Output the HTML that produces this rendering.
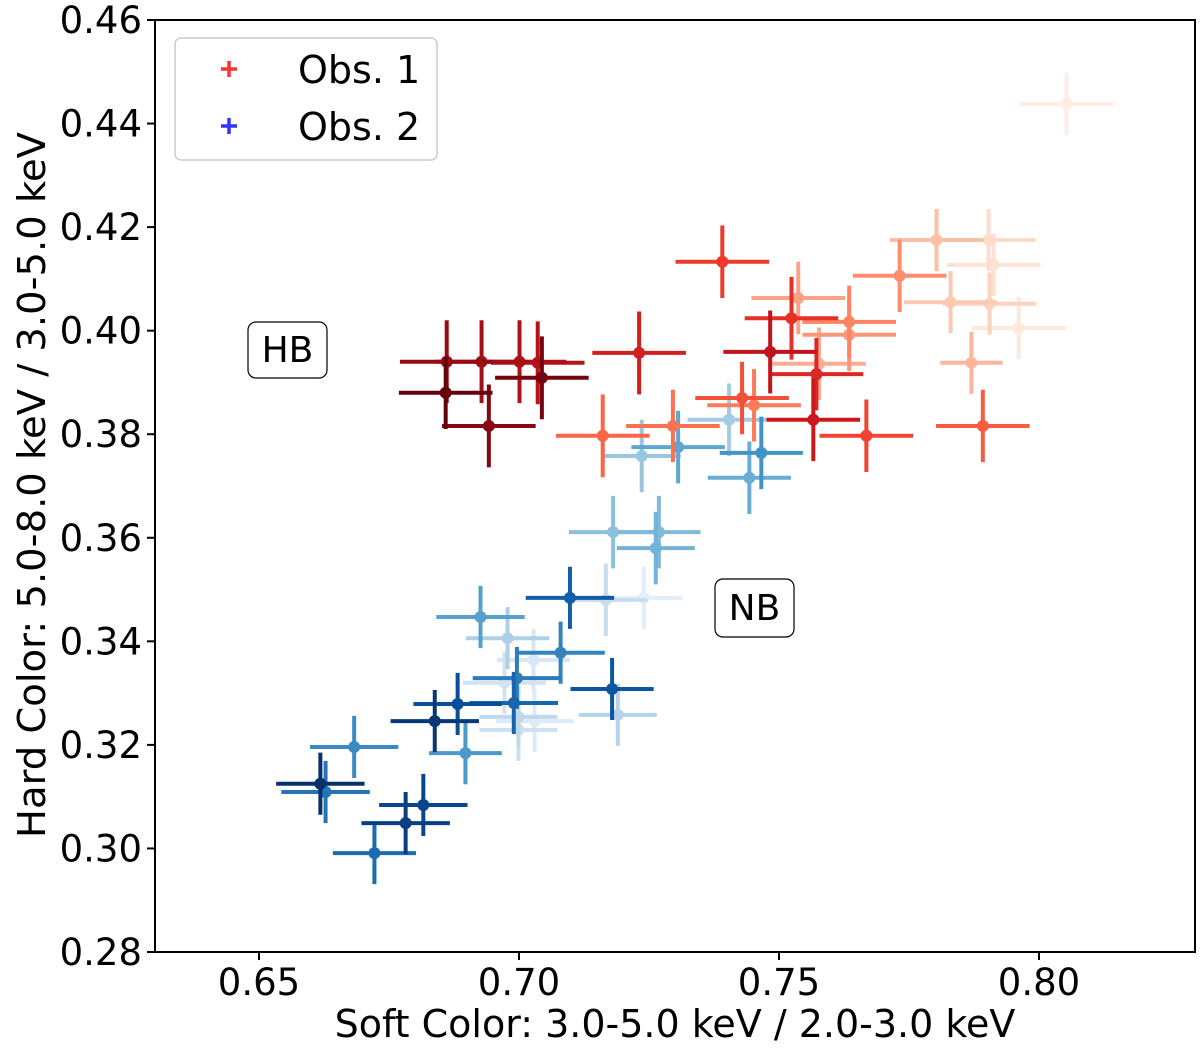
<!DOCTYPE html>
<html><head><meta charset="utf-8"><style>
html,body{margin:0;padding:0;background:#fff;}
svg{display:block;font-family:"DejaVu Sans","Liberation Sans",sans-serif;}
</style></head><body>
<svg id="chart" width="1200" height="1049" viewBox="0 0 1200 1049">
<g id="marks"></g>
<rect x="155" y="20" width="1040" height="932" fill="none" stroke="#000" stroke-width="2"/>
<g id="axes"></g>
<text x="675" y="1037" font-size="38" text-anchor="middle">Soft Color: 3.0-5.0 keV / 2.0-3.0 keV</text>
<text transform="translate(45,485) rotate(-90)" font-size="38.5" text-anchor="middle">Hard Color: 5.0-8.0 keV / 3.0-5.0 keV</text>
<g>
<rect x="175" y="38" width="262" height="122" rx="6" fill="#fff" stroke="#ccc" stroke-width="1.5"/>
<g>
<path d="M221 69h16M229 61v16" stroke="#ff3333" stroke-width="3.5"/>
<text x="298" y="83" font-size="38">Obs. 1</text></g>
<g>
<path d="M221 126h16M229 118v16" stroke="#3333ff" stroke-width="3.5"/>
<text x="298" y="140" font-size="38">Obs. 2</text></g>
</g>
<g>
<rect x="248" y="322" width="79" height="56" rx="8" fill="#fff" stroke="#000" stroke-width="1.2"/>
<text x="287.5" y="362" font-size="36" text-anchor="middle">HB</text></g>
<g>
<rect x="715" y="579" width="79" height="58" rx="8" fill="#fff" stroke="#000" stroke-width="1.2"/>
<text x="754.5" y="620" font-size="36" text-anchor="middle">NB</text></g>
</svg>
<script>
const xTicks = [0.65, 0.70, 0.75, 0.80];
const xTickLabels = ["0.65", "0.70", "0.75", "0.80"];
const yTicks = [0.28, 0.30, 0.32, 0.34, 0.36, 0.38, 0.40, 0.42, 0.44, 0.46];
const yTickLabels = ["0.28","0.30","0.32","0.34","0.36","0.38","0.40","0.42","0.44","0.46"];
// Obs 1 ordered from light (early colormap) to dark
const obs1X = [0.8053,0.7961,0.7913,0.7903,0.7905,0.7830,0.7803,0.7870,0.7577,0.7537,0.7635,0.7732,0.7635,0.7452,0.7296,0.7161,0.7892,0.7429,0.7668,0.7391,0.7524,0.7572,0.7231,0.7566,0.7483,0.7036,0.7001,0.6928,0.6861,0.6942,0.7044,0.6859];
const obs1Y = [0.4438,0.4005,0.4127,0.4175,0.4052,0.4055,0.4175,0.3938,0.3936,0.4063,0.3992,0.4106,0.4017,0.3856,0.3816,0.3797,0.3816,0.3870,0.3797,0.4133,0.4024,0.3916,0.3957,0.3828,0.3959,0.3938,0.3940,0.3940,0.3940,0.3816,0.3909,0.3880];
const obs1Xerr = [0.009,0.009,0.009,0.009,0.009,0.009,0.009,0.006,0.009,0.009,0.009,0.009,0.009,0.009,0.009,0.009,0.009,0.009,0.009,0.009,0.009,0.009,0.009,0.009,0.009,0.009,0.009,0.009,0.009,0.009,0.009,0.009];
const obs1Yerr = [0.006,0.006,0.006,0.006,0.006,0.006,0.006,0.006,0.007,0.007,0.007,0.007,0.007,0.007,0.007,0.008,0.007,0.007,0.007,0.007,0.008,0.007,0.008,0.008,0.008,0.008,0.008,0.008,0.008,0.008,0.008,0.007];
// Obs 2 ordered from light to dark
const obs2X = [0.7240,0.7030,0.7028,0.6972,0.6999,0.7167,0.6999,0.7190,0.6978,0.7404,0.7236,0.7181,0.7269,0.7263,0.7443,0.7306,0.6926,0.6897,0.7466,0.6683,0.7080,0.6996,0.6628,0.6722,0.6990,0.7098,0.7179,0.6882,0.6816,0.6782,0.6838,0.6618];
const obs2Y = [0.3484,0.3246,0.3364,0.3320,0.3229,0.3480,0.3254,0.3258,0.3406,0.3828,0.3758,0.3611,0.3611,0.3580,0.3716,0.3775,0.3447,0.3184,0.3764,0.3196,0.3378,0.3329,0.3109,0.2991,0.3281,0.3484,0.3308,0.3279,0.3084,0.3049,0.3246,0.3125];
const obs2Xerr = [0.0075,0.0075,0.007,0.008,0.0075,0.008,0.0075,0.0075,0.008,0.008,0.0075,0.0085,0.008,0.0075,0.008,0.009,0.0085,0.007,0.008,0.0085,0.0085,0.0085,0.0085,0.008,0.0085,0.0085,0.008,0.0085,0.0085,0.0085,0.0085,0.0085];
const obs2Yerr = [0.006,0.006,0.006,0.006,0.006,0.007,0.006,0.006,0.006,0.007,0.007,0.007,0.007,0.007,0.007,0.007,0.006,0.006,0.007,0.006,0.006,0.006,0.006,0.006,0.006,0.006,0.006,0.006,0.006,0.006,0.006,0.006];

const X0=0.63,X1=0.83,Y0=0.28,Y1=0.46,L=155,R=1195,T=20,B=952;
function sx(v){return L+(v-X0)/(X1-X0)*(R-L);}
function sy(v){return B-(v-Y0)/(Y1-Y0)*(B-T);}
const NS='http://www.w3.org/2000/svg';
const axes=document.getElementById('axes');
function mk(tag,attrs,parent){const e=document.createElementNS(NS,tag);for(const k in attrs)e.setAttribute(k,attrs[k]);parent.appendChild(e);return e;}
xTicks.forEach((v,i)=>{
  const t=mk('line',{x1:sx(v),x2:sx(v),y1:B,y2:B+8,stroke:'#000','stroke-width':2},axes);
  
  
  const l=mk('text',{x:sx(v),y:B+43,'font-size':37,'text-anchor':'middle'},axes);
  l.textContent=xTickLabels[i];
  
  
});
yTicks.forEach((v,i)=>{
  const t=mk('line',{x1:L-8,x2:L,y1:sy(v),y2:sy(v),stroke:'#000','stroke-width':2},axes);
  
  
  const l=mk('text',{x:L-13,y:sy(v)+13,'font-size':37,'text-anchor':'end'},axes);
  l.textContent=yTickLabels[i];
  
  
});
const reds=[[255,245,240],[254,224,210],[252,187,161],[252,146,114],[251,106,74],[239,59,44],[203,24,29],[165,15,21],[103,0,13]];
const blues=[[247,251,255],[222,235,247],[198,219,239],[158,202,225],[107,174,214],[66,146,198],[33,113,181],[8,81,156],[8,48,107]];
function cmap(s,t){t=Math.max(0,Math.min(1,t))*(s.length-1);const i=Math.min(Math.floor(t),s.length-2),f=t-i;const c=s[i].map((a,k)=>Math.round(a+(s[i+1][k]-a)*f));return 'rgb('+c.join(',')+')';}
const marks=document.getElementById('marks');
function series(xs,ys,xe,ye,pal,name,tmin){
  const g=mk('g',{},marks);
  
  
  const n=xs.length;
  xs.forEach((x,i)=>{
    const c=cmap(pal,tmin+(1-tmin)*i/(n-1));
    const p=mk('g',{},g);
    
    
    mk('line',{x1:sx(x-xe[i]),x2:sx(x+xe[i]),y1:sy(ys[i]),y2:sy(ys[i]),stroke:c,'stroke-width':4},p);
    mk('line',{x1:sx(x),x2:sx(x),y1:sy(ys[i]-ye[i]),y2:sy(ys[i]+ye[i]),stroke:c,'stroke-width':4},p);
    mk('circle',{cx:sx(x),cy:sy(ys[i]),r:6,fill:c},p);
  });
}
series(obs2X,obs2Y,obs2Xerr,obs2Yerr,blues,'obs2-series',0.1);
series(obs1X,obs1Y,obs1Xerr,obs1Yerr,reds,'obs1-series',0.05);
</script>
</body></html>
